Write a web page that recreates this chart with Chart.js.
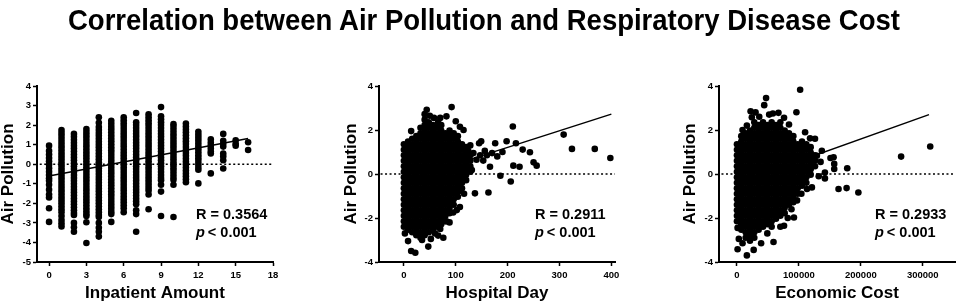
<!DOCTYPE html>
<html>
<head>
<meta charset="utf-8">
<script src="https://cdn.jsdelivr.net/npm/chart.js@4.4.1/dist/chart.umd.min.js"></script>
<style>
  body { margin: 0; background: #fff; }
  #wrap { position: relative; width: 957px; height: 305px; overflow: hidden; }
  #title {
    position: absolute; top: 5px; left: 68px;
    font: bold 30px "Liberation Sans", Arial, sans-serif; line-height: 30px;
    white-space: nowrap; transform-origin: 0 0; color: #000;
  }
  canvas { position: absolute; top: 0; }
</style>
</head>
<body>
<div id="wrap">
  <canvas id="c1" width="290" height="305" style="left:0px"></canvas>
  <canvas id="c2" width="290" height="305" style="left:343px"></canvas>
  <canvas id="c3" width="275" height="305" style="left:682px"></canvas>
  <div id="title">Correlation between Air Pollution and Respiratory Disease Cost</div>
</div>
<script>
// ---- panel 1 : inpatient amount (columns of points at whole numbers)
const inpatX = [0, 1, 2, 3, 4, 5, 6, 7, 8, 9, 10, 11, 12, 13, 14, 15, 16];
const inpatY = [
  [0.95,0.68,0.5,0.32,0.15,-0.02,-0.2,-0.38,-0.55,-0.72,-0.85,-1.05,-1.3,-1.55,-1.7,-2.25,-2.95],
  [1.75,1.6,1.45,1.3,1.15,1.0,0.85,0.7,0.55,0.4,0.25,0.1,-0.05,-0.2,-0.35,-0.5,-0.65,-0.8,-0.95,-1.1,-1.25,-1.4,-1.55,-1.7,-1.85,-2.0,-2.15,-2.3,-2.45,-2.65,-2.85,-3.02,-3.18],
  [1.55,1.4,1.25,1.1,0.95,0.8,0.65,0.5,0.35,0.2,0.05,-0.1,-0.25,-0.4,-0.55,-0.7,-0.85,-1.0,-1.15,-1.3,-1.45,-1.6,-1.75,-1.9,-2.05,-2.2,-2.35,-2.5,-2.6,-3.0,-3.22,-3.45],
  [1.8,1.65,1.5,1.35,1.2,1.05,0.9,0.75,0.6,0.45,0.3,0.15,0,-0.15,-0.3,-0.45,-0.6,-0.75,-0.9,-1.05,-1.2,-1.35,-1.5,-1.65,-1.8,-1.95,-2.1,-2.25,-2.4,-2.55,-2.65,-2.97,-4.03],
  [2.4,2.12,1.9,1.75,1.6,1.45,1.3,1.15,1.0,0.85,0.7,0.55,0.4,0.25,0.1,-0.05,-0.2,-0.35,-0.5,-0.65,-0.8,-0.95,-1.1,-1.25,-1.4,-1.55,-1.7,-1.85,-2.0,-2.15,-2.3,-2.45,-2.6,-2.7,-3.0,-3.25,-3.45,-3.7],
  [2.22,2.07,1.92,1.77,1.62,1.47,1.32,1.17,1.02,0.87,0.72,0.57,0.42,0.27,0.12,-0.03,-0.18,-0.33,-0.48,-0.63,-0.78,-0.93,-1.08,-1.23,-1.38,-1.53,-1.68,-1.83,-1.98,-2.13,-2.28,-2.43,-2.55,-2.95],
  [2.4,2.25,2.1,1.95,1.8,1.65,1.5,1.35,1.2,1.05,0.9,0.75,0.6,0.45,0.3,0.15,0,-0.15,-0.3,-0.45,-0.6,-0.75,-0.9,-1.05,-1.2,-1.35,-1.5,-1.65,-1.8,-1.95,-2.1,-2.25,-2.45],
  [2.62,2.15,2.0,1.85,1.7,1.55,1.4,1.25,1.1,0.95,0.8,0.65,0.5,0.35,0.2,0.05,-0.1,-0.25,-0.4,-0.55,-0.7,-0.85,-1.0,-1.15,-1.3,-1.45,-1.6,-1.75,-1.9,-2.05,-2.35,-2.55,-3.45],
  [2.55,2.4,2.25,2.1,1.95,1.8,1.65,1.5,1.35,1.2,1.05,0.9,0.75,0.6,0.45,0.3,0.15,0,-0.15,-0.3,-0.45,-0.6,-0.75,-0.9,-1.05,-1.2,-1.35,-1.55,-2.3],
  [2.92,2.45,2.3,2.15,2.0,1.85,1.7,1.55,1.4,1.25,1.1,0.95,0.8,0.65,0.5,0.35,0.2,0.05,-0.1,-0.25,-0.4,-0.55,-0.7,-0.82,-1.05,-1.4,-2.65],
  [2.05,1.9,1.75,1.6,1.45,1.3,1.15,1.0,0.85,0.7,0.55,0.4,0.25,0.1,-0.05,-0.2,-0.35,-0.5,-0.65,-0.8,-1.05,-2.7],
  [2.08,1.93,1.78,1.63,1.48,1.33,1.18,1.03,0.88,0.73,0.58,0.43,0.28,0.13,-0.02,-0.17,-0.32,-0.47,-0.62,-0.77,-0.92],
  [1.66,1.51,1.36,1.21,1.06,0.91,0.76,0.61,0.46,0.31,0.16,0.01,-0.14,-0.28,-0.98],
  [1.27,1.1,0.95,0.8,0.65,0.55,-0.47],
  [1.55,1.2,1.05,0.9,0.55,0.4,0.2,-0.22],
  [1.22,1.05,0.95],
  [1.12,0.73]
];
const inpatFitX = [0, 16];
const inpatFitY = [-0.6, 1.32];
const inpatTicksX = [0, 3, 6, 9, 12, 15, 18];
const inpatTicksY = [-5, -4, -3, -2, -1, 0, 1, 2, 3, 4];

// ---- panel 2 : hospital day (dense cloud, columns of points + stray points)
const hospColX = [0, 8, 16, 24, 32, 40, 48, 56, 64, 72, 80, 88, 96, 104, 112, 120, 128];
const hospColY = [
  [-2.4,-2.15,-1.9,-1.65,-1.4,-1.15,-0.9,-0.65,-0.4,-0.15,0.1,0.35,0.6,0.85,1.1,1.35],
  [-2.53,-2.28,-2.03,-1.78,-1.53,-1.28,-1.03,-0.78,-0.53,-0.28,-0.03,0.22,0.47,0.72,0.97,1.22,1.47],
  [-2.65,-2.4,-2.15,-1.9,-1.65,-1.4,-1.15,-0.9,-0.65,-0.4,-0.15,0.1,0.35,0.6,0.85,1.1,1.35,1.6],
  [-2.78,-2.53,-2.28,-2.03,-1.78,-1.53,-1.28,-1.03,-0.78,-0.53,-0.28,-0.03,0.22,0.47,0.72,0.97,1.22,1.47,1.72],
  [-2.9,-2.65,-2.4,-2.15,-1.9,-1.65,-1.4,-1.15,-0.9,-0.65,-0.4,-0.15,0.1,0.35,0.6,0.85,1.1,1.35,1.6,1.85,2.1],
  [-2.78,-2.53,-2.28,-2.03,-1.78,-1.53,-1.28,-1.03,-0.78,-0.53,-0.28,-0.03,0.22,0.47,0.72,0.97,1.22,1.47,1.72,1.97,2.22,2.47],
  [-2.65,-2.4,-2.15,-1.9,-1.65,-1.4,-1.15,-0.9,-0.65,-0.4,-0.15,0.1,0.35,0.6,0.85,1.1,1.35,1.6,1.85,2.1,2.35],
  [-2.53,-2.28,-2.03,-1.78,-1.53,-1.28,-1.03,-0.78,-0.53,-0.28,-0.03,0.22,0.47,0.72,0.97,1.22,1.47,1.72,1.97,2.22],
  [-2.4,-2.15,-1.9,-1.65,-1.4,-1.15,-0.9,-0.65,-0.4,-0.15,0.1,0.35,0.6,0.85,1.1,1.35,1.6,1.85,2.1],
  [-2.28,-2.03,-1.78,-1.53,-1.28,-1.03,-0.78,-0.53,-0.28,-0.03,0.22,0.47,0.72,0.97,1.22,1.47,1.72,1.97,2.22],
  [-2.15,-1.9,-1.65,-1.4,-1.15,-0.9,-0.65,-0.4,-0.15,0.1,0.35,0.6,0.85,1.1,1.35,1.6,1.85],
  [-1.78,-1.53,-1.28,-1.03,-0.78,-0.53,-0.28,-0.03,0.22,0.47,0.72,0.97,1.22,1.47,1.72,1.97],
  [-1.4,-1.15,-0.9,-0.65,-0.4,-0.15,0.1,0.35,0.6,0.85,1.1,1.35,1.6,1.85],
  [-1.03,-0.78,-0.53,-0.28,-0.03,0.22,0.47,0.72,0.97,1.22,1.47,1.72],
  [-0.65,-0.4,-0.15,0.1,0.35,0.6,0.85,1.1,1.35],
  [-0.28,-0.03,0.22,0.47,0.72,0.97,1.22],
  [0.1,0.35,0.6,0.85]
];
const hospOddX = [14,44,40,50,58,66,70,82,92,100,108,115,
  2,8,14,22,35,47,52,60,66,76,70,82,88,95,102,108,110,116,
  120,124,128,131,134,137,140,145,147,149,153,156,160,163,166,170,176,180,186,190,198,
  206,210,211,216,223,229,243,250,256,308,324,368,398];
const hospOddY = [1.95,2.92,2.72,2.65,2.55,2.35,2.55,2.62,3.04,2.4,2.15,2.0,
  -2.7,-3.05,-3.5,-3.58,-3.0,-3.3,-2.95,-2.7,-2.8,-2.9,-2.5,-2.15,-2.2,-1.75,-1.64,-1.5,-0.76,-0.9,
  0.4,1.05,1.3,0.18,0.95,-0.88,0.65,1.4,0.85,1.49,0.61,1.05,0.85,-0.84,0.33,0.95,1.4,0.8,-0.08,1.0,1.49,
  -0.34,2.16,0.38,1.4,0.33,1.11,0.99,0.53,0.38,1.79,1.14,1.14,0.73];
const hospFitX = [0, 400];
const hospFitY = [-0.3, 2.72];
const hospTicksX = [0, 100, 200, 300, 400];

// ---- panel 3 : economic cost
const costColX = [0,7000,14000,21000,28000,35000,42000,49000,56000,63000,70000,77000,84000,91000,98000,105000,112000,119000,126000];
const costColY = [
  [-2.15,-1.9,-1.65,-1.4,-1.15,-0.9,-0.65,-0.4,-0.15,0.1,0.35,0.6,0.85,1.1,1.35],
  [-2.53,-2.28,-2.03,-1.78,-1.53,-1.28,-1.03,-0.78,-0.53,-0.28,-0.03,0.22,0.47,0.72,0.97,1.22,1.47,1.72],
  [-2.9,-2.65,-2.4,-2.15,-1.9,-1.65,-1.4,-1.15,-0.9,-0.65,-0.4,-0.15,0.1,0.35,0.6,0.85,1.1,1.35,1.6,1.85],
  [-3.03,-2.78,-2.53,-2.28,-2.03,-1.78,-1.53,-1.28,-1.03,-0.78,-0.53,-0.28,-0.03,0.22,0.47,0.72,0.97,1.22,1.47,1.72,1.97],
  [-2.9,-2.65,-2.4,-2.15,-1.9,-1.65,-1.4,-1.15,-0.9,-0.65,-0.4,-0.15,0.1,0.35,0.6,0.85,1.1,1.35,1.6,1.85,2.1,2.35],
  [-2.53,-2.28,-2.03,-1.78,-1.53,-1.28,-1.03,-0.78,-0.53,-0.28,-0.03,0.22,0.47,0.72,0.97,1.22,1.47,1.72,1.97,2.22],
  [-2.4,-2.15,-1.9,-1.65,-1.4,-1.15,-0.9,-0.65,-0.4,-0.15,0.1,0.35,0.6,0.85,1.1,1.35,1.6,1.85,2.1,2.35],
  [-2.28,-2.03,-1.78,-1.53,-1.28,-1.03,-0.78,-0.53,-0.28,-0.03,0.22,0.47,0.72,0.97,1.22,1.47,1.72,1.97,2.22],
  [-2.4,-2.15,-1.9,-1.65,-1.4,-1.15,-0.9,-0.65,-0.4,-0.15,0.1,0.35,0.6,0.85,1.1,1.35,1.6,1.85,2.1,2.35],
  [-2.03,-1.78,-1.53,-1.28,-1.03,-0.78,-0.53,-0.28,-0.03,0.22,0.47,0.72,0.97,1.22,1.47,1.72,1.97,2.22],
  [-1.9,-1.65,-1.4,-1.15,-0.9,-0.65,-0.4,-0.15,0.1,0.35,0.6,0.85,1.1,1.35,1.6,1.85,2.1,2.35],
  [-1.78,-1.53,-1.28,-1.03,-0.78,-0.53,-0.28,-0.03,0.22,0.47,0.72,0.97,1.22,1.47,1.72,1.97],
  [-1.4,-1.15,-0.9,-0.65,-0.4,-0.15,0.1,0.35,0.6,0.85,1.1,1.35,1.6,1.85],
  [-1.28,-1.03,-0.78,-0.53,-0.28,-0.03,0.22,0.47,0.72,0.97,1.22,1.47,1.72],
  [-0.9,-0.65,-0.4,-0.15,0.1,0.35,0.6,0.85,1.1,1.35],
  [-0.53,-0.28,-0.03,0.22,0.47,0.72,0.97,1.22,1.47],
  [-0.4,-0.15,0.1,0.35,0.6,0.85,1.1,1.35],
  [-0.03,0.22,0.47,0.72,0.97,1.22],
  [0.35,0.6,0.85]
];
const costOddX = [1000,3000,1000,9000,16000,27000,39000,59000,49000,70000,76000,82000,88000,92000,97000,104000,
  9000,16000,22000,24000,30000,36000,44000,47000,52000,58000,67000,76000,84000,96000,102000,110000,118000,
  113000,121000,126000,129000,132000,135000,137000,142000,142000,151000,156000,157000,157000,164000,177000,178000,196000,265000,312000];
const costOddY = [-2.45,-2.95,-3.42,-3.15,-3.7,-3.45,-3.15,-3.09,-2.7,-2.4,-2.35,-2.0,-1.6,-1.98,-1.2,-0.9,
  2.0,2.2,2.85,2.58,2.8,2.6,3.13,3.45,2.7,2.75,2.78,2.56,2.25,2.81,3.83,1.9,1.62,
  -0.68,-0.61,1.6,0.83,-0.1,0.55,1.06,0.07,-0.2,0.73,0.76,0.46,0.23,-0.68,-0.64,0.26,-0.84,0.79,1.25];
const costFitX = [0, 310000];
const costFitY = [-0.42, 2.7];
const costTicksX = [0, 100000, 200000, 300000];

const wideTicksY = [-4, -2, 0, 2, 4];

const FONT = '"Liberation Sans", Arial, sans-serif';

function colPoints(xs, cols) {
  const pts = [];
  xs.forEach((x, i) => cols[i].forEach(y => pts.push({ x: x, y: y })));
  return pts;
}
function pairPoints(xs, ys) {
  return xs.map((x, i) => ({ x: x, y: ys[i] }));
}

// R value and p value text
const statText = {
  id: 'statText',
  afterDatasetsDraw(chart, args, o) {
    const ctx = chart.ctx;
    ctx.save();
    ctx.fillStyle = '#000';
    ctx.textBaseline = 'alphabetic';
    ctx.textAlign = 'left';
    ctx.font = 'bold 14.5px ' + FONT;
    ctx.fillText(o.r, o.x, 219);
    ctx.font = 'italic bold 14.5px ' + FONT;
    ctx.fillText('p', o.x, 236.5);
    const w = ctx.measureText('p').width;
    ctx.font = 'bold 14.5px ' + FONT;
    ctx.fillText('< 0.001', o.x + w + 3, 236.5);
    ctx.restore();
  }
};

function makePanel(id, p) {
  const tickFont = { family: FONT, size: 9.5, weight: 'bold' };
  const titleFont = { family: FONT, size: 17, weight: 'bold', lineHeight: 1 };
  const axisGrid = { display: true, drawOnChartArea: false, drawTicks: true, tickLength: 4, tickWidth: 1.5, color: '#000' };
  new Chart(document.getElementById(id), {
    type: 'scatter',
    data: {
      datasets: [
        { data: p.points, pointRadius: 3.3, pointHoverRadius: 3.3, backgroundColor: '#000', borderWidth: 0 },
        { data: p.fit, showLine: true, pointRadius: 0, borderColor: '#000', borderWidth: 1.5 },
        { data: p.zero, showLine: true, pointRadius: 0, borderColor: '#000', borderWidth: 1.5, borderDash: [2, 2.5] }
      ]
    },
    options: {
      responsive: false,
      animation: false,
      devicePixelRatio: 1,
      events: [],
      layout: { autoPadding: false, padding: { top: 86, right: p.padRight, left: 0, bottom: 0 } },
      plugins: {
        legend: { display: false },
        tooltip: { enabled: false },
        statText: { r: p.r, x: p.textX }
      },
      scales: {
        x: {
          type: 'linear', min: p.xMin, max: p.xMax,
          afterFit: s => { s.height = 43; },
          afterBuildTicks: s => { s.ticks = p.ticksX.map(v => ({ value: v })); },
          ticks: { font: tickFont, color: '#000', padding: 4, maxRotation: 0, autoSkip: false, callback: v => String(v) },
          grid: axisGrid,
          border: { display: true, color: '#000', width: 2 },
          title: { display: true, text: p.xTitle, color: '#000', font: titleFont, padding: { top: 0, bottom: 3 } }
        },
        y: {
          type: 'linear', min: p.yMin, max: 4,
          afterFit: s => { s.width = p.yWidth; },
          afterBuildTicks: s => { s.ticks = p.ticksY.map(v => ({ value: v })); },
          ticks: { font: tickFont, color: '#000', padding: 2, autoSkip: false, callback: v => String(v) },
          grid: axisGrid,
          border: { display: true, color: '#000', width: 2 },
          title: { display: true, text: 'Air Pollution', color: '#000', font: titleFont, padding: { top: 0, bottom: 0 } }
        }
      }
    },
    plugins: [statText]
  });
}

makePanel('c1', {
  points: colPoints(inpatX, inpatY),
  fit: pairPoints(inpatFitX, inpatFitY),
  zero: [{ x: -0.75, y: 0 }, { x: 18, y: 0 }],
  xMin: -0.97, xMax: 18, yMin: -5,
  ticksX: inpatTicksX, ticksY: inpatTicksY,
  xTitle: 'Inpatient Amount', yWidth: 37, padRight: 17,
  r: 'R = 0.3564', textX: 196
});

makePanel('c2', {
  points: colPoints(hospColX, hospColY).concat(pairPoints(hospOddX, hospOddY)),
  fit: pairPoints(hospFitX, hospFitY),
  zero: [{ x: -45, y: 0 }, { x: 407, y: 0 }],
  xMin: -48, xMax: 407, yMin: -4,
  ticksX: hospTicksX, ticksY: wideTicksY,
  xTitle: 'Hospital Day', yWidth: 36, padRight: 18,
  r: 'R = 0.2911', textX: 192
});

makePanel('c3', {
  points: colPoints(costColX, costColY).concat(pairPoints(costOddX, costOddY)),
  fit: pairPoints(costFitX, costFitY),
  zero: [{ x: -25000, y: 0 }, { x: 352000, y: 0 }],
  xMin: -29000, xMax: 352000, yMin: -4,
  ticksX: costTicksX, ticksY: wideTicksY,
  xTitle: 'Economic Cost', yWidth: 37, padRight: 2,
  r: 'R = 0.2933', textX: 193
});

// squeeze the heading to the width it has in the figure
const title = document.getElementById('title');
const tw = title.getBoundingClientRect().width;
title.style.transform = 'scaleX(' + (832 / tw) + ')';
</script>
</body>
</html>
